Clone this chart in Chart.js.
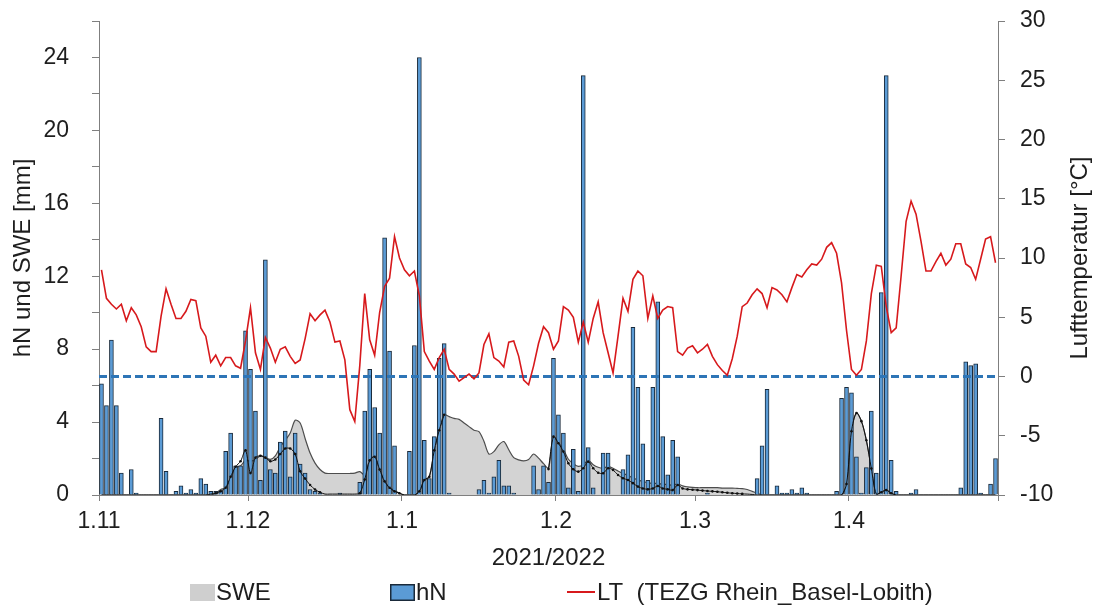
<!DOCTYPE html>
<html>
<head>
<meta charset="utf-8">
<script src="https://cdn.jsdelivr.net/npm/chart.js@4.4.1/dist/chart.umd.min.js"></script>
<style>
  html, body { margin: 0; padding: 0; background: #fff; }
  #wrap { width: 1095px; height: 607px; }
</style>
</head>
<body>
<div id="wrap"><canvas id="snowChart" width="1095" height="607"></canvas></div>
<script>
// day index 0 = 1.11.2021, one value per day up to 30.4.2022
const monthStarts = [0, 30, 61, 92, 120, 151, 181];
const monthLabels = ['1.11', '1.12', '1.1', '1.2', '1.3', '1.4', ''];

// hN [mm]
const hN = [
  6.1, 4.9, 8.5, 4.9, 1.2, 0, 1.4, 0.1, 0, 0,
  0, 0, 4.2, 1.3, 0, 0.2, 0.5, 0.1, 0.3, 0.1,
  0.9, 0.6, 0.2, 0.2, 0.2, 2.4, 3.4, 1.6, 1.6, 9.0,
  6.9, 4.6, 0.8, 12.9, 1.4, 1.2, 2.9, 3.5, 1.0, 3.4,
  1.7, 1.2, 0.3, 0.2, 0.1, 0, 0, 0, 0.1, 0,
  0, 0, 0.7, 4.6, 6.9, 4.8, 3.4, 14.1, 7.9, 2.7,
  0, 0, 2.4, 8.2, 24.0, 3.0, 0.9, 3.2, 7.5, 8.3,
  0.1, 0, 0, 0, 0, 0, 0.3, 0.8, 0.1, 1.0,
  1.9, 0.5, 0.5, 0.1, 0, 0, 0, 1.6, 0.3, 1.6,
  0.7, 7.5, 4.4, 3.4, 0.4, 2.5, 0.2, 23.0, 2.6, 0.4,
  0, 2.3, 2.3, 0, 0, 1.4, 2.2, 9.2, 5.9, 2.8,
  0.8, 5.9, 10.6, 3.2, 1.1, 3.0, 2.1, 0, 0, 0,
  0, 0, 0.1, 0, 0, 0, 0, 0, 0, 0,
  0, 0, 0.9, 2.7, 5.8, 0, 0.5, 0.1, 0.1, 0.3,
  0.1, 0.4, 0.1, 0, 0, 0, 0, 0, 0.2, 5.3,
  5.9, 5.6, 2.1, 0.1, 1.5, 4.6, 1.2, 11.1, 23.0, 1.9,
  0.2, 0, 0, 0.1, 0.3, 0, 0, 0, 0, 0,
  0, 0, 0, 0.4, 7.3, 7.1, 7.2, 0.1, 0, 0.6,
  2.0
];

// SWE [mm] (grey area)
const swe = [
  0, 0, 0, 0, 0, 0, 0, 0, 0, 0,
  0, 0, 0, 0, 0, 0, 0, 0, 0, 0,
  0, 0, 0, 0.1, 0.3, 0.4, 0.9, 1.5, 1.6, 1.9,
  1.85, 1.95, 2.15, 2.05, 1.95, 2.15, 2.65, 3.0, 3.4, 4.1,
  3.95, 3.1, 2.3, 1.75, 1.4, 1.2, 1.18, 1.18, 1.18, 1.18,
  1.18, 1.2, 1.28, 1.1, 1.9, 2.1, 1.4, 0.75, 0.4, 0.25,
  0.1, 0, 0, 0, 0.2, 0.82, 1.0, 2.45, 3.55, 4.4,
  4.3, 4.2, 4.15, 3.95, 3.75, 3.55, 3.48, 2.95, 2.25, 2.38,
  2.75, 2.93, 2.48, 2.05, 1.93, 1.87, 1.95, 2.25, 2.02, 1.72,
  1.48, 3.2, 2.88, 2.5, 1.96, 1.72, 1.57, 1.66, 1.9, 1.66,
  1.52, 1.47, 1.56, 1.47, 1.32, 1.18, 1.08, 0.93, 0.83, 0.74,
  0.67, 0.64, 0.64, 0.59, 0.57, 0.54, 0.61, 0.5, 0.45, 0.42,
  0.4, 0.4, 0.4, 0.4, 0.4, 0.38, 0.38, 0.38, 0.36, 0.35,
  0.3, 0.2, 0.1, 0, 0, 0, 0, 0, 0, 0,
  0, 0, 0, 0, 0, 0, 0, 0, 0, 0,
  0.6, 3.5, 4.5, 4.05, 3.0, 1.45, 0.05, 0.15, 0.27, 0.1,
  0, 0, 0, 0, 0, 0, 0, 0, 0, 0,
  0, 0, 0, 0, 0, 0, 0, 0, 0, 0,
  0
];

// thin black line with dots (no legend entry), null where it runs on the SWE edge
const sweNew = [
  0, 0, 0, 0, 0, 0, 0, 0, 0, 0,
  0, 0, 0, 0, 0, 0, 0, 0, 0, 0,
  0, 0, 0.05, 0.1, 0.2, 0.4, 1.0, 1.55, 1.85, 2.45,
  1.2, 2.05, 2.15, 2.05, 1.85, 1.95, 2.25, 2.55, 2.55, 2.25,
  1.3, 0.9, 0.55, 0.3, 0.15, 0.05, 0.05, 0.05, 0.05, 0.05,
  0.05, 0.05, 0.1, 0.85, 1.9, 2.1, 1.4, 0.75, 0.4, 0.2,
  0.1, 0, 0, 0, 0.2, 0.82, 1.0, 2.45, 3.55, 4.4,
  null, null, null, null, null, null, null, null, null, null,
  null, null, null, null, null, null, null, null, null, null,
  1.42, 3.2, 2.84, 2.38, 1.74, 1.41, 1.28, 1.47, 1.83, 1.47,
  1.22, 1.19, 1.47, 1.37, 1.1, 0.92, 0.82, 0.65, 0.46, 0.36,
  0.31, 0.36, 0.49, 0.36, 0.31, 0.27, 0.55, 0.36, 0.31, 0.29,
  0.27, 0.24, 0.22, 0.2, 0.18, 0.15, 0.12, 0.1, 0.08, 0.06,
  0.05, 0.03, 0, 0, 0, 0, 0, 0, 0, 0,
  0, 0, 0, 0, 0, 0, 0, 0, 0, 0,
  0.6, 3.5, 4.5, 4.05, 3.0, 1.45, 0.05, 0.15, 0.27, 0.1,
  0, 0, 0, 0, 0, 0, 0, 0, 0, 0,
  0, 0, 0, 0, 0, 0, 0, 0, 0, 0,
  0
];

// LT [°C]
const lt = [
  9.0, 6.6, 6.1, 5.7, 6.1, 4.7, 5.8, 5.2, 4.2, 2.5,
  2.1, 2.1, 5.1, 7.4, 6.1, 4.9, 4.9, 5.5, 6.5, 6.4,
  4.1, 3.4, 1.2, 1.8, 0.9, 1.6, 1.6, 0.9, 0.7, 3.0,
  5.8, 2.0, 0.6, 3.3, 2.4, 1.2, 2.3, 2.5, 1.7, 1.1,
  1.4, 3.2, 5.3, 4.7, 5.2, 5.6, 4.6, 2.9, 3.0, 1.4,
  -2.8, -3.8, 0.9, 7.0, 3.1, 1.8, 5.4, 7.6, 8.3, 11.8,
  10.0, 9.0, 8.5, 8.9, 6.8, 2.1, 1.3, 0.6, 1.6, 2.3,
  0.6, 0.2, -0.4, -0.1, 0.2, -0.2, 0.3, 2.7, 3.6, 1.6,
  1.3, 0.8, 2.9, 3.0, 1.7, -0.3, -0.7, 0.9, 2.8, 4.2,
  3.7, 2.3, 3.0, 5.9, 5.6, 5.0, 2.9, 4.6, 2.9, 4.9,
  6.3, 3.7, 2.0, 0.3, 3.4, 6.6, 5.5, 8.2, 8.9, 8.5,
  4.9, 6.8, 4.9, 5.6, 5.9, 5.8, 2.1, 1.8, 2.4, 2.6,
  2.0, 2.3, 2.7, 1.7, 1.0, 0.5, 0.1, 1.5, 3.4, 5.9,
  6.2, 6.9, 7.4, 7.0, 5.8, 7.5, 7.3, 6.9, 6.3, 7.5,
  8.6, 8.4, 9.0, 9.5, 9.4, 9.9, 10.9, 11.3, 10.4, 7.9,
  3.9, 0.6, 0.1, 0.6, 3.0, 7.0, 9.4, 9.3, 5.9, 3.7,
  4.1, 8.5, 13.1, 14.8, 13.7, 11.4, 8.9, 8.9, 9.7, 10.4,
  9.4, 9.9, 11.2, 11.2, 9.5, 9.2, 8.2, 9.9, 11.6, 11.8,
  9.6
];

const frostLevel = [0, 0]; // 0 °C reference line, start and end of period

const FONT = '"Liberation Sans", Arial, sans-serif';
const TXT = '#1e1e1e';
const AXIS = '#7f7f7f';

const daily = arr => arr.map((v, i) => ({ x: i + 0.5, y: v }));

// fixed axis width, and keep the label padding from pushing the plot down
const fixY = w => s => { s.width = w; s.paddingTop = 12; s.paddingBottom = 12; };

const extras = {
  id: 'extras',
  afterDraw(chart) {
    const { ctx, chartArea } = chart;
    ctx.save();
    ctx.fillStyle = TXT;
    ctx.font = '24px ' + FONT;
    ctx.textAlign = 'center';
    ctx.textBaseline = 'middle';
    // right axis title, reads bottom to top
    ctx.translate(1080, (chartArea.top + chartArea.bottom) / 2);
    ctx.rotate(-Math.PI / 2);
    ctx.fillText('Lufttemperatur [°C]', 0, 0);
    ctx.restore();

    // legend row
    const y = 592;
    ctx.save();
    ctx.font = '24px ' + FONT;
    ctx.textBaseline = 'middle';
    ctx.textAlign = 'left';
    ctx.fillStyle = '#cfcfcf';
    ctx.fillRect(190, y - 8, 25, 17);
    ctx.fillStyle = TXT;
    ctx.fillText('SWE', 216, y + 1);
    ctx.fillStyle = '#5b9bd5';
    ctx.fillRect(390, y - 8, 25, 17);
    ctx.strokeStyle = '#1a2a3a';
    ctx.lineWidth = 1.5;
    ctx.strokeRect(390.75, y - 7.25, 23.5, 15.5);
    ctx.fillStyle = TXT;
    ctx.fillText('hN', 416, y + 1);
    ctx.strokeStyle = '#d7191c';
    ctx.lineWidth = 2;
    ctx.beginPath();
    ctx.moveTo(567, y);
    ctx.lineTo(595, y);
    ctx.stroke();
    ctx.fillText('LT  (TEZG Rhein_Basel-Lobith)', 597, y + 1);
    ctx.restore();
  }
};

new Chart(document.getElementById('snowChart'), {
  type: 'bar',
  data: {
    datasets: [
      {
        type: 'line',
        label: 'LT',
        data: daily(lt),
        yAxisID: 'y2',
        borderColor: '#d7191c',
        borderWidth: 1.6,
        pointRadius: 0,
        tension: 0,
        order: 1
      },
      {
        type: 'line',
        label: '0 °C',
        data: [{ x: 0, y: frostLevel[0] }, { x: 181, y: frostLevel[1] }],
        yAxisID: 'y2',
        borderColor: '#2e75b6',
        borderWidth: 3,
        borderDash: [8, 4],
        pointRadius: 0,
        order: 2
      },
      {
        type: 'line',
        label: 'SWE neu',
        data: daily(sweNew),
        yAxisID: 'y',
        borderColor: '#111111',
        borderWidth: 1,
        pointRadius: ctx => (ctx.raw && ctx.raw.y > 0.05 ? 1.3 : 0),
        pointBackgroundColor: '#111111',
        pointBorderWidth: 0,
        tension: 0.3,
        spanGaps: false,
        order: 3
      },
      {
        label: 'hN',
        data: daily(hN),
        yAxisID: 'y',
        backgroundColor: '#5b9bd5',
        borderColor: '#1a2a3a',
        borderWidth: 1,
        barThickness: 4,
        order: 4
      },
      {
        type: 'line',
        label: 'SWE',
        data: daily(swe),
        yAxisID: 'y',
        borderColor: '#4d4d4d',
        borderWidth: 1.2,
        backgroundColor: '#d3d3d3',
        fill: 'origin',
        pointRadius: 0,
        tension: 0.3,
        order: 5
      }
    ]
  },
  options: {
    responsive: false,
    animation: false,
    layout: { padding: { top: 21, left: 0, right: 0, bottom: 0 } },
    plugins: {
      legend: { display: false },
      tooltip: { enabled: false }
    },
    scales: {
      x: {
        type: 'linear',
        min: 0,
        max: 181,
        offset: false,
        afterBuildTicks: s => { s.ticks = monthStarts.map(v => ({ value: v })); },
        afterFit: s => { s.height = 112; },
        ticks: {
          autoSkip: false,
          maxRotation: 0,
          padding: 7,
          color: TXT,
          font: { family: FONT, size: 23 },
          callback: (v, i) => monthLabels[i]
        },
        grid: { display: true, drawOnChartArea: false, drawTicks: true, tickLength: 6, color: AXIS, offset: false },
        border: { display: true, color: AXIS, width: 1 },
        title: {
          display: true,
          text: '2021/2022',
          color: TXT,
          font: { family: FONT, size: 24 },
          padding: { top: 0, bottom: 34 }
        }
      },
      y: {
        position: 'left',
        min: 0,
        max: 26,
        afterFit: fixY(99),
        ticks: {
          stepSize: 2,
          color: TXT,
          padding: 23,
          font: { family: FONT, size: 23 },
          callback: v => (v % 4 === 0 ? String(v) : '')
        },
        grid: { drawOnChartArea: false, tickLength: 7, color: AXIS },
        border: { display: true, color: AXIS, width: 1 },
        title: {
          display: true,
          text: 'hN und SWE [mm]',
          color: TXT,
          font: { family: FONT, size: 24 },
          padding: { top: 9, bottom: 0 }
        }
      },
      y2: {
        position: 'right',
        min: -10,
        max: 30,
        afterFit: fixY(97),
        ticks: {
          stepSize: 5,
          color: TXT,
          padding: 15,
          font: { family: FONT, size: 23 }
        },
        grid: { drawOnChartArea: false, tickLength: 7, color: AXIS },
        border: { display: true, color: AXIS, width: 1 }
      }
    }
  },
  plugins: [extras]
});
</script>
</body>
</html>
